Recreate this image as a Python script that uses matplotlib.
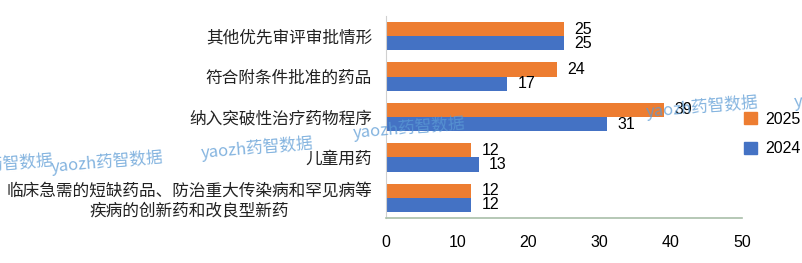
import matplotlib
matplotlib.use("Agg")
import matplotlib.pyplot as plt
from matplotlib.patches import Patch
import numpy as np

plt.rcParams['font.family'] = ['Noto Sans CJK SC', 'DejaVu Sans']

categories = ["其他优先审评审批情形", "符合附条件批准的药品", "纳入突破性治疗药物程序", "儿童用药",
              "临床急需的短缺药品、防治重大传染病和罕见病等\n疾病的创新药和改良型新药"]
v2025 = [25, 24, 39, 12, 12]
v2024 = [25, 17, 31, 13, 12]
xticks = [0, 10, 20, 30, 40, 50]

c25 = "#ED7D31"
c24 = "#4472C4"

fig = plt.figure(figsize=(8.03, 2.63), dpi=100)
ax = fig.add_axes([386/803, 1-218/263, (742-386)/803, (218-16)/263])

y = np.arange(len(categories))
h = 0.35
b1 = ax.barh(y - h/2, v2025, height=h, color=c25)
b2 = ax.barh(y + h/2, v2024, height=h, color=c24)
for rect, v in zip(b1, v2025):
    ax.text(rect.get_width() + 1.5, rect.get_y() + rect.get_height()/2, str(v),
            va='center', ha='left', fontsize=11.5, color='black', family='Liberation Sans')
for rect, v in zip(b2, v2024):
    ax.text(rect.get_width() + 1.5, rect.get_y() + rect.get_height()/2, str(v),
            va='center', ha='left', fontsize=11.5, color='black', family='Liberation Sans')

ax.set_ylim(len(categories) - 0.5, -0.5)
ax.set_xlim(0, 50)
ax.set_yticks(y)
ax.set_yticklabels(categories, fontsize=12, color='#222222')
for lab in ax.get_yticklabels():
    lab.set_horizontalalignment('right')
    lab.set_multialignment('center')
ax.tick_params(axis='y', length=0, pad=10)
ax.set_xticks(xticks)
ax.set_xticklabels([str(t) for t in xticks], fontsize=11.5, family='Liberation Sans')
ax.tick_params(axis='x', length=0, pad=12)

for s in ['top', 'right']:
    ax.spines[s].set_visible(False)
ax.spines['left'].set_color('#d0d0d0')
ax.spines['bottom'].set_color('#a9bfa9')
ax.spines['bottom'].set_linewidth(1.2)

handles = [Patch(color=c25, label='2025'), Patch(color=c24, label='2024')]
fig.legend(handles=handles, loc='center left', bbox_to_anchor=(730/803, 1-134/263),
           frameon=False, handlelength=0.8, handleheight=0.8,
           labelspacing=0.9, handletextpad=0.5,
           prop={'family': 'Liberation Sans', 'size': 11.5})

wm = "yaozh药智数据"
for (px, py) in [(-60, 165), (50, 162), (200, 148), (352, 128), (645, 107), (793, 97)]:
    fig.text(px/803, 1-py/263, wm, fontsize=12, color='#5b9bd5', alpha=0.75,
             rotation=5, ha='left', va='center')

fig.savefig("out.png", dpi=100)
